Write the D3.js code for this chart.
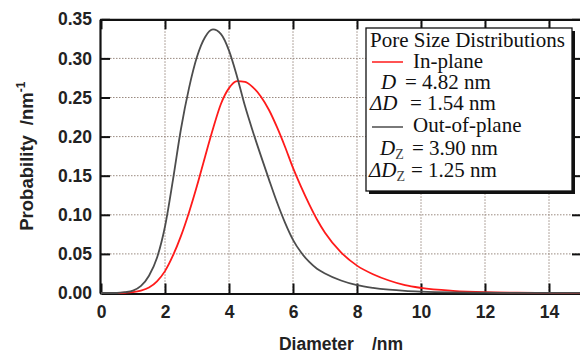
<!DOCTYPE html>
<html><head><meta charset="utf-8">
<script src="https://cdn.jsdelivr.net/npm/d3@7"></script>
<style>body{margin:0;background:#fff}svg{display:block}</style>
</head><body>
<svg id="c" width="580" height="352"></svg>
<script>
// ---- data ----
const xTickValues = [0, 2, 4, 6, 8, 10, 12, 14];
const yTickValues = [0, 0.05, 0.10, 0.15, 0.20, 0.25, 0.30, 0.35];
const diameter = [0, 0.5, 0.75, 1.0, 1.25, 1.5, 1.75, 2.0, 2.25, 2.5, 2.75, 3.0, 3.25, 3.5, 3.75, 4.0, 4.25, 4.5, 4.75, 5.0, 5.25, 5.5, 5.75, 6.0, 6.25, 6.5, 6.75, 7.0, 7.5, 8.0, 8.5, 9.0, 9.5, 10, 11, 12, 13, 14, 15];
const inPlane = [0, 0, 0.0003, 0.001, 0.003, 0.007, 0.015, 0.028, 0.048, 0.073, 0.103, 0.137, 0.174, 0.210, 0.242, 0.262, 0.271, 0.270, 0.263, 0.251, 0.234, 0.212, 0.187, 0.160, 0.136, 0.114, 0.094, 0.077, 0.052, 0.035, 0.024, 0.016, 0.010, 0.0065, 0.0028, 0.001, 0.0004, 0.0001, 0];
const outOfPlane = [0, 0, 0.001, 0.003, 0.009, 0.022, 0.045, 0.085, 0.145, 0.210, 0.262, 0.302, 0.327, 0.337, 0.331, 0.310, 0.277, 0.239, 0.206, 0.175, 0.145, 0.116, 0.090, 0.068, 0.052, 0.040, 0.031, 0.025, 0.016, 0.010, 0.0065, 0.0042, 0.0027, 0.0018, 0.0008, 0.0004, 0.0002, 0.0001, 0.00005];
const legendTitle = "Pore Size Distributions";
const seriesNames = ["In-plane", "Out-of-plane"];
const seriesColors = ["#ff1a1a", "#4d4d4d"];

// ---- layout ----
const svg = d3.select("#c");
const L = 101, R = 581, T = 19.3, B = 293;
const x = d3.scaleLinear().domain([0, 15]).range([L, R]);
const y = d3.scaleLinear().domain([0, 0.35]).range([B, T]);
const sans = "'Liberation Sans', Arial, sans-serif";
const serif = "'Liberation Serif', 'Times New Roman', serif";

// grid
const grid = svg.append("g").attr("stroke", "#9a8a80").attr("stroke-width", 1).attr("stroke-dasharray", "1.5,1.5");
grid.selectAll(".gx").data(xTickValues.filter(d => d > 0)).join("line")
  .attr("x1", d => x(d)).attr("x2", d => x(d)).attr("y1", T).attr("y2", B);
grid.selectAll(".gy").data(yTickValues.filter(d => d > 0 && d < 0.35)).join("line")
  .attr("y1", d => y(d)).attr("y2", d => y(d)).attr("x1", L).attr("x2", R);

// axes (ticks inward)
const axB = svg.append("g").attr("transform", `translate(0,${B + 0.5})`)
  .call(d3.axisBottom(x).tickValues(xTickValues).tickSizeInner(-10).tickSizeOuter(0).tickPadding(12));
const axT = svg.append("g").attr("transform", `translate(0,${T})`)
  .call(d3.axisTop(x).tickValues(xTickValues).tickSizeInner(-10).tickSizeOuter(0).tickFormat(""));
const axL = svg.append("g").attr("transform", `translate(${L - 1},0)`)
  .call(d3.axisLeft(y).tickValues(yTickValues).tickSizeInner(-10).tickSizeOuter(0).tickPadding(8).tickFormat(d3.format(".2f")));
const axR = svg.append("g").attr("transform", `translate(${R},0)`)
  .call(d3.axisRight(y).tickValues(yTickValues).tickSizeInner(-9).tickSizeOuter(0).tickFormat(""));
[axB, axT, axL, axR].forEach(a => {
  a.select(".domain").attr("stroke", "#111").attr("stroke-width", 2.2);
  a.selectAll(".tick line").attr("stroke", "#111").attr("stroke-width", 2);
  a.selectAll("text").attr("font-family", sans).attr("font-weight", "bold")
    .attr("font-size", 17.5).attr("fill", "#222");
});
axB.selectAll("text").attr("dy", "0.71em");

// curves
const line = d3.line().curve(d3.curveMonotoneX);
const series = [inPlane, outOfPlane];
series.forEach((vals, i) => {
  svg.append("path")
    .attr("d", line(diameter.map((d, j) => [x(d), y(vals[j])])))
    .attr("fill", "none").attr("stroke", seriesColors[i]).attr("stroke-width", 1.8);
});

// axis titles
const xt = svg.append("text").attr("x", (L + R) / 2).attr("y", 349.5).attr("text-anchor", "middle")
  .attr("font-family", sans).attr("font-weight", "bold").attr("font-size", 17.5).attr("fill", "#222");
xt.append("tspan").text("Diameter");
xt.append("tspan").attr("dx", 18).text("/nm");

const yt = svg.append("text").attr("transform", `translate(33,${(T + B) / 2}) rotate(-90)`)
  .attr("text-anchor", "middle").attr("font-family", sans).attr("font-weight", "bold")
  .attr("font-size", 18.5).attr("fill", "#222");
yt.append("tspan").text("Probability");
yt.append("tspan").attr("dx", 10).text("/nm");
yt.append("tspan").attr("dy", -8).attr("font-size", 12).text("-1");

// legend
const lg = svg.append("g");
const bx = 366, by = 28, bw = 206, bh = 163;
lg.append("rect").attr("x", bx + 3).attr("y", by + 3).attr("width", bw).attr("height", bh).attr("fill", "#111");
lg.append("rect").attr("x", bx).attr("y", by).attr("width", bw).attr("height", bh)
  .attr("fill", "#fff").attr("stroke", "#111").attr("stroke-width", 1.3);
const lt = (xx, yy) => lg.append("text").attr("x", xx).attr("y", yy)
  .attr("font-family", serif).attr("font-size", 21).attr("fill", "#111");
lt(370, 47).text(legendTitle);
lg.append("line").attr("x1", 372).attr("x2", 403).attr("y1", 62).attr("y2", 62)
  .attr("stroke", seriesColors[0]).attr("stroke-width", 1.5);
lt(413, 68).text(seriesNames[0]);
let t = lt(381, 89);
t.append("tspan").attr("font-style", "italic").text("D");
t.append("tspan").attr("x", 405).text("= 4.82 nm");
t = lt(370, 110);
t.append("tspan").attr("font-style", "italic").text("\u0394D");
t.append("tspan").attr("x", 410).text("= 1.54 nm");
lg.append("line").attr("x1", 372).attr("x2", 403).attr("y1", 127).attr("y2", 127)
  .attr("stroke", seriesColors[1]).attr("stroke-width", 1.5);
lt(413, 132).text(seriesNames[1]);
t = lt(380, 155);
t.append("tspan").attr("font-style", "italic").text("D");
t.append("tspan").attr("font-size", 14).attr("fill", "#444").attr("dy", 4).text("Z");
t.append("tspan").attr("x", 412).attr("dy", -4).text("= 3.90 nm");
t = lt(369, 177);
t.append("tspan").attr("font-style", "italic").text("\u0394D");
t.append("tspan").attr("font-size", 14).attr("fill", "#444").attr("dy", 4).text("Z");
t.append("tspan").attr("x", 411).attr("dy", -4).text("= 1.25 nm");
</script>
</body></html>
